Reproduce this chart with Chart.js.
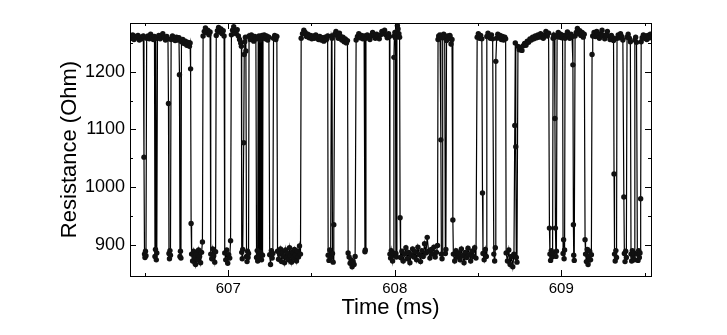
<!DOCTYPE html>
<html>
<head>
<meta charset="utf-8">
<script src="https://cdn.jsdelivr.net/npm/chart.js@4/dist/chart.umd.min.js"></script>
<style>
  html, body { margin: 0; padding: 0; background: #fff; }
  canvas { display: block; }
</style>
</head>
<body>
<canvas id="noise" width="727" height="335"></canvas>
<script>
// tick values
var xTicks = [607, 608, 609];
var xMinorTicks = [606.5, 607.5, 608.5, 609.5];
var yTicks = [900, 1000, 1100, 1200];
var yMinorTicks = [950, 1050, 1150, 1250];

// sampled trace, one line per stretch of the signal (same order in both arrays)
var timeMs = [
  606.410, 606.418, 606.426, 606.434, 606.442, 606.450, 606.458, 606.466, 606.474, 606.482, 606.490,
  606.494, 606.497, 606.500, 606.503, 606.506,
  606.510, 606.518, 606.526, 606.534, 606.542, 606.550, 606.557,
  606.560, 606.563, 606.565, 606.568, 606.571,
  606.575, 606.583, 606.591, 606.599, 606.607, 606.615, 606.623, 606.631, 606.638,
  606.641, 606.644, 606.647, 606.650, 606.653,
  606.657, 606.665, 606.673, 606.681, 606.689, 606.697, 606.704,
  606.707, 606.710, 606.713, 606.716,
  606.719, 606.727, 606.735, 606.743, 606.751, 606.759, 606.767, 606.771,
  606.774, 606.777, 606.780, 606.786, 606.792, 606.798, 606.804, 606.810, 606.816, 606.822, 606.828, 606.834, 606.840, 606.845,
  606.849, 606.856, 606.863, 606.870, 606.877, 606.884, 606.891,
  606.895, 606.901, 606.907, 606.913, 606.919, 606.924,
  606.928, 606.935, 606.942, 606.949, 606.956, 606.963, 606.970, 606.975,
  606.979, 606.985, 606.991, 606.997, 607.003, 607.009, 607.014,
  607.019, 607.026, 607.033, 607.040, 607.047, 607.054, 607.061, 607.068, 607.075, 607.079,
  607.081, 607.084, 607.087, 607.093, 607.096, 607.099, 607.103, 607.106, 607.110, 607.113, 607.116, 607.119, 607.122,
  607.125, 607.132, 607.139, 607.146, 607.153, 607.160, 607.166,
  607.170, 607.174, 607.177, 607.180, 607.182, 607.185, 607.188, 607.191, 607.194, 607.197, 607.200, 607.203, 607.206,
  607.209, 607.216, 607.223, 607.230, 607.237, 607.244,
  607.249, 607.254, 607.259, 607.264, 607.268,
  607.272, 607.279, 607.286, 607.292,
  607.296, 607.302, 607.308, 607.314, 607.320, 607.326, 607.332, 607.338, 607.344, 607.350, 607.356, 607.362, 607.368, 607.374, 607.380, 607.386, 607.392, 607.398, 607.404, 607.410, 607.416, 607.422, 607.428, 607.434,
  607.438, 607.446, 607.454, 607.462, 607.470, 607.478, 607.486, 607.494, 607.502, 607.510, 607.518, 607.526, 607.534, 607.542, 607.550, 607.558, 607.566, 607.574, 607.582, 607.590, 607.597,
  607.600, 607.605, 607.610, 607.615, 607.620, 607.623, 607.626, 607.630, 607.634,
  607.640, 607.647, 607.654, 607.661, 607.668, 607.675, 607.682, 607.689, 607.696, 607.703, 607.710, 607.716,
  607.720, 607.726, 607.732, 607.738, 607.744, 607.750, 607.756, 607.762,
  607.768, 607.776, 607.784, 607.792, 607.800, 607.808, 607.816,
  607.821, 607.823,
  607.827, 607.835, 607.843, 607.851, 607.859, 607.867, 607.875, 607.883, 607.891, 607.899, 607.907, 607.915, 607.923, 607.931, 607.939, 607.947, 607.955, 607.963, 607.968,
  607.971, 607.975, 607.979, 607.983, 607.987, 607.991, 607.995, 607.998, 608.001, 608.004, 608.007, 608.010, 608.013, 608.016, 608.020, 608.025, 608.029, 608.032,
  608.035, 608.043, 608.051, 608.059, 608.067, 608.075, 608.083, 608.091, 608.099, 608.107, 608.115, 608.123, 608.131, 608.139, 608.147, 608.155, 608.163, 608.171, 608.179, 608.187, 608.195, 608.203, 608.211, 608.219, 608.227, 608.235, 608.243, 608.251, 608.257,
  608.260, 608.264, 608.268, 608.272, 608.277, 608.280, 608.284, 608.288, 608.294, 608.300, 608.304, 608.307, 608.311, 608.317, 608.324, 608.331, 608.338, 608.344, 608.349,
  608.352, 608.360, 608.368, 608.376, 608.384, 608.392, 608.400, 608.408, 608.416, 608.424, 608.432, 608.440, 608.448, 608.456, 608.464, 608.472, 608.480, 608.488,
  608.495, 608.502, 608.509, 608.516, 608.523, 608.527,
  608.530, 608.537, 608.544, 608.550,
  608.553, 608.560, 608.567, 608.574, 608.581, 608.588,
  608.595, 608.600, 608.604, 608.607, 608.612, 608.619, 608.626, 608.633, 608.640, 608.647, 608.654, 608.661, 608.666,
  608.669, 608.677, 608.685, 608.693, 608.701, 608.709, 608.716, 608.721, 608.724, 608.727, 608.730, 608.734,
  608.740, 608.748, 608.756, 608.764, 608.772, 608.780, 608.788, 608.796, 608.804, 608.812, 608.820, 608.828, 608.836, 608.844, 608.852, 608.860, 608.868, 608.876, 608.884, 608.892, 608.900, 608.908, 608.916, 608.924,
  608.929, 608.932, 608.936, 608.940, 608.944, 608.948, 608.951, 608.955, 608.959, 608.962, 608.965, 608.968, 608.971,
  608.975, 608.982, 608.989, 608.996, 609.003, 609.008,
  609.011, 609.014, 609.017, 609.020,
  609.023, 609.030, 609.037, 609.044, 609.051, 609.058, 609.065,
  609.070, 609.073, 609.075, 609.078,
  609.083, 609.090, 609.097, 609.104, 609.111, 609.118, 609.125, 609.132, 609.138,
  609.143, 609.146, 609.151, 609.156, 609.161, 609.166, 609.171, 609.176, 609.181, 609.185,
  609.189, 609.197, 609.205, 609.213, 609.221, 609.229, 609.237, 609.245, 609.253, 609.261, 609.269, 609.277, 609.285, 609.293, 609.301, 609.309, 609.314,
  609.317, 609.320, 609.324, 609.328, 609.332,
  609.335, 609.342, 609.349, 609.356, 609.363, 609.370,
  609.376, 609.379, 609.383, 609.387, 609.391,
  609.395, 609.402, 609.409, 609.415,
  609.419, 609.423, 609.427, 609.431, 609.436, 609.440,
  609.442, 609.447, 609.452,
  609.457, 609.461, 609.465, 609.469, 609.473, 609.477,
  609.480, 609.486, 609.493, 609.500, 609.507, 609.514, 609.521, 609.528, 609.535, 609.539
];

var resistanceOhm = [
  1262, 1258, 1264, 1256, 1261, 1259, 1263, 1255, 1260, 1257, 1262,
  1052, 884, 878, 889, 881,
  1258, 1262, 1257, 1265, 1260, 1256, 1261,
  880, 892, 1258, 874, 886,
  1259, 1263, 1257, 1262, 1266, 1259, 1255, 1261, 1257,
  1145, 885, 876, 890, 882,
  1256, 1262, 1258, 1254, 1260, 1255, 1259,
  1195, 880, 889, 877,
  1252, 1256, 1249, 1253, 1246, 1251, 1244, 1250,
  1205, 937, 884, 872, 889, 878, 866, 885, 874, 891, 880, 869, 887, 905,
  1262, 1270, 1276, 1268, 1272, 1264, 1269,
  884, 876, 893, 881, 870, 888,
  1263, 1271, 1277, 1269, 1274, 1266, 1271, 1262,
  886, 874, 891, 868, 883, 877, 907,
  1264, 1272, 1278, 1270, 1266, 1273, 1262, 1256, 1250, 1244,
  887, 876, 892, 1077, 1230, 1252, 1260, 1236, 880, 871, 889, 878, 885,
  1262, 1256, 1264, 1259, 1253, 1261, 1257,
  878, 890, 872, 1258, 884, 1262, 879, 1255, 887, 1260, 874, 1263, 882,
  1259, 1264, 1257, 1262, 1255, 1260,
  883, 866, 890, 877, 885,
  1258, 1263, 1256, 1261,
  889, 875, 884, 893, 871, 887, 880, 869, 891, 878, 886, 874, 895, 881, 870, 888, 877, 892, 883, 872, 889, 879, 898, 884,
  1258, 1266, 1272, 1268, 1261, 1265, 1259, 1263, 1257, 1262, 1258, 1264, 1260, 1256, 1261, 1255, 1259, 1253, 1260, 1256, 1262,
  882, 873, 891, 878, 1262, 1258, 885, 870, 935,
  1265, 1270, 1263, 1258, 1267, 1261, 1255, 1260, 1252, 1257, 1250, 1254,
  886, 879, 868, 874, 862, 871, 866, 880,
  1255, 1261, 1266, 1259, 1263, 1257, 1262,
  888, 891,
  1258, 1264, 1260, 1256, 1263, 1268, 1262, 1258, 1265, 1261, 1257, 1264, 1270, 1266, 1272, 1264, 1259, 1266, 1261,
  884, 877, 890, 881, 872, 886, 1225, 1262, 1268, 1259, 885, 879, 1270, 1280, 1274, 1266, 1260, 947,
  878, 889, 872, 884, 895, 876, 887, 869, 882, 893, 879, 888, 874, 896, 883, 871, 890, 880, 902, 886, 913, 889, 877, 892, 884, 896, 879, 887, 899,
  1256, 1262, 1258, 1264, 1082, 884, 876, 1259, 1265, 1260, 885, 892, 1254, 1262, 1257, 1263, 1248, 1256, 943,
  884, 872, 890, 879, 886, 874, 893, 881, 869, 887, 878, 894, 883, 872, 889, 880, 895, 877,
  1260, 1266, 1258, 1263, 1257, 990,
  885, 874, 892, 880,
  1261, 1267, 1262, 1258, 1264, 1257,
  884, 872, 895, 1218, 1258, 1265, 1259, 1263, 1256, 1261, 1255, 1260, 1257,
  886, 872, 891, 866, 880, 862, 884, 1107, 1250, 1070, 878, 870,
  1244, 1238, 1242, 1237, 1245, 1249, 1246, 1253, 1251, 1257, 1255, 1260, 1257, 1262, 1259, 1264, 1260, 1266, 1261, 1258, 1264, 1270, 1262, 1267,
  929, 884, 873, 890, 879, 886, 1258, 1264, 1260, 1119, 929, 880, 889,
  1262, 1268, 1260, 1265, 1259, 1263,
  885, 909, 876, 891,
  1258, 1264, 1269, 1262, 1258, 1265, 1261,
  1212, 935, 882, 873,
  1262, 1268, 1275, 1266, 1271, 1263, 1268, 1260, 1265,
  909, 884, 871, 892, 866, 880, 889, 874, 883, 1230,
  1262, 1268, 1261, 1270, 1264, 1258, 1266, 1272, 1263, 1257, 1264, 1270, 1262, 1256, 1263, 1259, 1254,
  1023, 884, 872, 890, 878,
  1258, 1264, 1259, 1266, 1261, 1255,
  983, 885, 871, 889, 878,
  1260, 1265, 1258, 1252,
  884, 872, 890, 879, 886, 874,
  1255, 1260, 1251,
  884, 873, 890, 878, 886, 980,
  1252, 1259, 1264, 1258, 1262, 1256, 1263, 1259, 1265, 1260
];

if (timeMs.length != resistanceOhm.length) console.log('length mismatch', timeMs.length, resistanceOhm.length);

var points = timeMs.map(function(t, i){ return {x: t, y: resistanceOhm[i]}; });

// closed frame with inward ticks on all four sides, like the origin-style plot
var frameTicks = {
    id: 'frameTicks',
    afterDraw: function(chart){
        var ctx = chart.ctx, a = chart.chartArea;
        var xs = chart.scales.x, ys = chart.scales.y;
        ctx.save();
        ctx.strokeStyle = '#000';
        ctx.lineWidth = 1;
        ctx.strokeRect(a.left + 0.5, a.top + 0.5, a.right - a.left, a.bottom - a.top);
        ctx.beginPath();
        var xMark = function(v, len){
            var px = Math.round(xs.getPixelForValue(v)) + 0.5;
            ctx.moveTo(px, a.bottom); ctx.lineTo(px, a.bottom - len);
            ctx.moveTo(px, a.top); ctx.lineTo(px, a.top + len);
        };
        var yMark = function(v, len){
            var py = Math.round(ys.getPixelForValue(v)) + 0.5;
            ctx.moveTo(a.left, py); ctx.lineTo(a.left + len, py);
            ctx.moveTo(a.right, py); ctx.lineTo(a.right - len, py);
        };
        xTicks.forEach(function(v){ xMark(v, 6); });
        xMinorTicks.forEach(function(v){ xMark(v, 3); });
        yTicks.forEach(function(v){ yMark(v, 6); });
        yMinorTicks.forEach(function(v){ yMark(v, 3); });
        ctx.stroke();
        ctx.restore();
    }
};

Chart.defaults.font.family = "Arial, 'Liberation Sans', sans-serif";
Chart.defaults.color = '#000';

var ctx = document.getElementById('noise').getContext('2d');
var chartObj = new Chart(ctx, {
    type: 'line',
    data: {
        datasets: [{
            data: points,
            borderColor: '#000',
            borderWidth: 1.2,
            pointRadius: 2.7,
            pointBackgroundColor: '#111',
            pointBorderWidth: 0,
            tension: 0
        }]
    },
    options: {
        responsive: false,
        animation: false,
        layout: { padding: { top: 23, right: 76, bottom: 0, left: 0 } },
        plugins: { legend: { display: false }, tooltip: { enabled: false } },
        scales: {
            x: {
                type: 'linear',
                min: 606.41,
                max: 609.539,
                grid: { display: false, drawTicks: false },
                border: { display: false },
                afterBuildTicks: function(s){ s.ticks = xTicks.map(function(v){ return {value: v}; }); },
                afterFit: function(s){ s.height = 59; },
                ticks: { padding: 4, font: { size: 15 }, callback: function(v){ return String(v); } },
                title: { display: true, text: 'Time (ms)', font: { size: 22 }, padding: { top: 0, bottom: 14 } }
            },
            y: {
                min: 846,
                max: 1284.5,
                grid: { display: false, drawTicks: false },
                border: { display: false },
                afterBuildTicks: function(s){ s.ticks = yTicks.map(function(v){ return {value: v}; }); },
                afterFit: function(s){ s.width = 130; },
                ticks: { padding: 5, font: { size: 18 }, callback: function(v){ return String(v); } },
                title: { display: true, text: 'Resistance (Ohm)', font: { size: 22 }, padding: { top: 57, bottom: 0 } }
            }
        }
    },
    plugins: [frameTicks]
});
</script>
</body>
</html>
